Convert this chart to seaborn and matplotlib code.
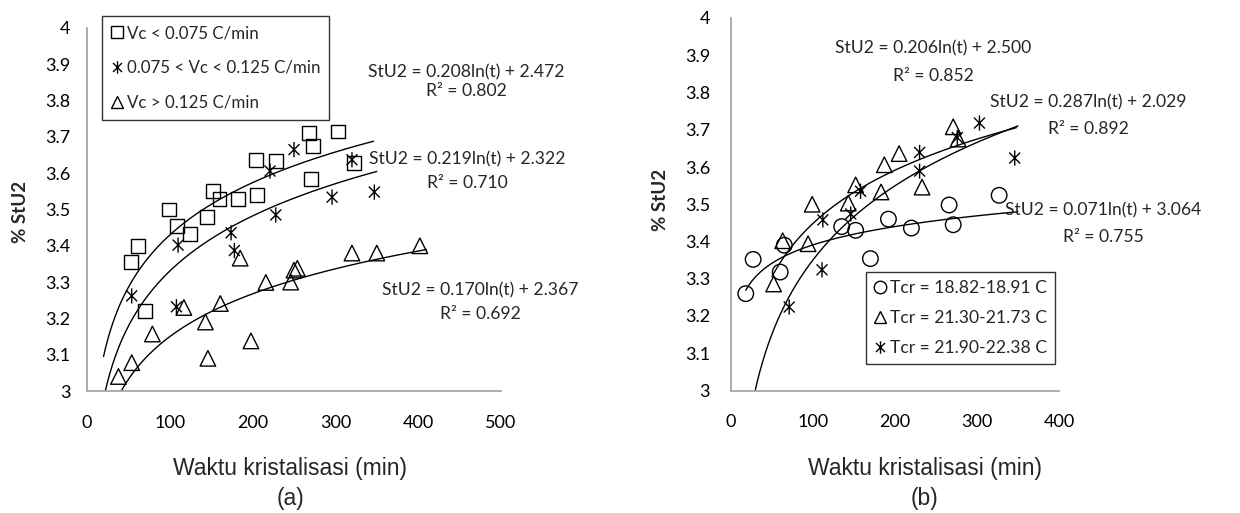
import numpy as np
import matplotlib
matplotlib.use("Agg")
import matplotlib.pyplot as plt
from matplotlib.path import Path
from matplotlib.lines import Line2D
import seaborn as sns

# ---------------- data: panel (a) ----------------
sq_t = [53, 62, 70, 99, 109, 124, 145, 152, 160, 182, 205, 204, 228, 268, 273, 270, 303, 322]
sq_y = [3.355, 3.40, 3.22, 3.50, 3.455, 3.433, 3.48, 3.55, 3.53, 3.53, 3.54, 3.636, 3.633, 3.711, 3.674, 3.583, 3.715, 3.628]
st_t = [54, 108, 110, 174, 178, 221, 228, 250, 296, 320, 347]
st_y = [3.262, 3.232, 3.402, 3.436, 3.387, 3.606, 3.485, 3.665, 3.534, 3.637, 3.548]
tr_t = [38, 54, 79, 117, 143, 146, 161, 185, 198, 216, 246, 250, 254, 320, 350, 402]
tr_y = [3.04, 3.078, 3.157, 3.23, 3.19, 3.09, 3.241, 3.366, 3.138, 3.299, 3.30, 3.333, 3.338, 3.38, 3.38, 3.40]
labels_a = ["Vc < 0.075 C/min", "0.075 < Vc < 0.125 C/min", "Vc > 0.125 C/min"]
coef_a = [(0.208, 2.472), (0.219, 2.322), (0.170, 2.367)]
range_a = [(20, 346), (22, 350), (41, 410)]
eq_a = ["StU2 = 0.208ln(t) + 2.472", "StU2 = 0.219ln(t) + 2.322", "StU2 = 0.170ln(t) + 2.367"]
r2_a = ["R² = 0.802", "R² = 0.710", "R² = 0.692"]

# ---------------- data: panel (b) ----------------
ci_t = [18, 27, 60, 65, 135, 152, 170, 192, 220, 266, 271, 327]
ci_y = [3.26, 3.352, 3.318, 3.39, 3.44, 3.43, 3.354, 3.46, 3.436, 3.498, 3.445, 3.524]
tri_t = [52, 63, 94, 99, 143, 152, 183, 187, 205, 233, 271, 277]
tri_y = [3.286, 3.402, 3.394, 3.50, 3.503, 3.552, 3.533, 3.606, 3.636, 3.546, 3.708, 3.675]
str_t = [71, 111, 112, 146, 158, 230, 230, 276, 303, 346]
str_y = [3.224, 3.324, 3.458, 3.474, 3.535, 3.639, 3.589, 3.679, 3.718, 3.624]
labels_b = ["Tcr = 18.82-18.91 C", "Tcr = 21.30-21.73 C", "Tcr = 21.90-22.38 C"]
coef_b = [(0.071, 3.064), (0.206, 2.500), (0.287, 2.029)]
range_b = [(18, 350), (50, 348), (29, 350)]
eq_b = ["StU2 = 0.071ln(t) + 3.064", "StU2 = 0.206ln(t) + 2.500", "StU2 = 0.287ln(t) + 2.029"]
r2_b = ["R² = 0.755", "R² = 0.852", "R² = 0.892"]

yticks = [3, 3.1, 3.2, 3.3, 3.4, 3.5, 3.6, 3.7, 3.8, 3.9, 4]
ytick_labels = ["3", "3.1", "3.2", "3.3", "3.4", "3.5", "3.6", "3.7", "3.8", "3.9", "4"]
xticks_a = [0, 100, 200, 300, 400, 500]
xticks_b = [0, 100, 200, 300, 400]

# ---------------- style ----------------
sns.set_theme(style="white")
plt.rcParams['font.family'] = ['Lato', 'DejaVu Sans']

W, H = 1240, 513
fig = plt.figure(figsize=(W / 100, H / 100), dpi=100)

def fx(px):
    return px / W

def fy(py):
    return 1 - py / H

star = Path([(0, -1), (0, 1), (-0.72, -0.72), (0.72, 0.72), (-0.72, 0.72), (0.72, -0.72)],
            [Path.MOVETO, Path.LINETO, Path.MOVETO, Path.LINETO, Path.MOVETO, Path.LINETO])

ax1 = fig.add_axes([fx(87), fy(391), fx(501 - 87), (391 - 28) / H])
ax2 = fig.add_axes([fx(731), fy(390.5), fx(1059 - 731), (390.5 - 18) / H])

TICK_FS = 13
EQ_FS = 12.6

def style_axes(ax, xticks, xmax, ypad):
    ax.set_xlim(0, xmax)
    ax.set_ylim(3, 4)
    ax.set_xticks(xticks)
    ax.set_xticklabels([str(v) for v in xticks])
    ax.set_yticks(yticks)
    ax.set_yticklabels(ytick_labels)
    for s in ["top", "right"]:
        ax.spines[s].set_visible(False)
    for s in ["left", "bottom"]:
        ax.spines[s].set_color("#a6a6a6")
        ax.spines[s].set_linewidth(1.3)
    ax.tick_params(axis="y", length=0, pad=ypad, labelsize=TICK_FS, colors="black")
    ax.tick_params(axis="x", length=0, pad=17, labelsize=TICK_FS, colors="black")
    ax.set_xlabel("")
    ax.set_ylabel("")
    ax.set_facecolor("none")

def scatter(ax, t, y, marker, size):
    sns.scatterplot(x=t, y=y, marker=marker, s=size, facecolors="none",
                    edgecolor="black", linewidth=1.0, ax=ax, zorder=3)

def trend(ax, coef, rng):
    a, b = coef
    tt = np.linspace(rng[0], rng[1], 300)
    sns.lineplot(x=tt, y=a * np.log(tt) + b, color="black", linewidth=1.0, ax=ax, zorder=2)

# panel (a)
scatter(ax1, sq_t, sq_y, "s", 100)
scatter(ax1, st_t, st_y, star, 120)
scatter(ax1, tr_t, tr_y, "^", 125)
for c, r in zip(coef_a, range_a):
    trend(ax1, c, r)
style_axes(ax1, xticks_a, 500, 12)

# panel (b)
scatter(ax2, ci_t, ci_y, "o", 125)
scatter(ax2, tri_t, tri_y, "^", 125)
scatter(ax2, str_t, str_y, star, 120)
for c, r in zip(coef_b, range_b):
    trend(ax2, c, r)
style_axes(ax2, xticks_b, 400, 15)

# legends
def handle(marker, lbl):
    return Line2D([], [], linestyle="none", marker=marker, markersize=9,
                  markerfacecolor="none", markeredgecolor="black", markeredgewidth=1.0, label=lbl)

hA = [handle("s", labels_a[0]), handle(star, labels_a[1]), handle("^", labels_a[2])]
legA = fig.legend(handles=hA, loc="upper left", bbox_to_anchor=(fx(102), fy(16)),
                  bbox_transform=fig.transFigure, frameon=True, fancybox=False,
                  edgecolor="black", fontsize=12.2, handlelength=0.7, handletextpad=0.2,
                  labelspacing=1.1, borderpad=0.55, borderaxespad=0)
legA.get_frame().set_linewidth(1.0)
hB = [handle("o", labels_b[0]), handle("^", labels_b[1]), handle(star, labels_b[2])]
legB = fig.legend(handles=hB, loc="upper left", bbox_to_anchor=(fx(866), fy(272)),
                  bbox_transform=fig.transFigure, frameon=True, fancybox=False,
                  edgecolor="black", fontsize=12.6, handlelength=0.7, handletextpad=0.25,
                  labelspacing=0.8, borderpad=0.45, borderaxespad=0)
legB.get_frame().set_linewidth(1.0)

# equations (pixel centres)
eqpos_a = [(466, 72, 91), (467, 159, 183), (480, 290, 314)]
for (cx, y1, y2), e, r in zip(eqpos_a, eq_a, r2_a):
    fig.text(fx(cx), fy(y1), e, ha="center", va="center", fontsize=EQ_FS)
    fig.text(fx(cx), fy(y2), r, ha="center", va="center", fontsize=EQ_FS)
eqpos_b = [(1103, 210, 237), (933, 48, 76), (1088, 102, 129)]
for (cx, y1, y2), e, r in zip(eqpos_b, eq_b, r2_b):
    fig.text(fx(cx), fy(y1), e, ha="center", va="center", fontsize=EQ_FS)
    fig.text(fx(cx), fy(y2), r, ha="center", va="center", fontsize=EQ_FS)

# axis titles
for cx, cyl, tag, ylx, yly in [(290, 468, "(a)", 20, 212), (925, 468, "(b)", 660, 200)]:
    fig.text(fx(cx), fy(cyl), "Waktu kristalisasi (min)", ha="center", va="center",
             fontsize=16.5, family="Liberation Sans")
    fig.text(fx(cx), fy(cyl + 31), tag, ha="center", va="center",
             fontsize=16.5, family="Liberation Sans")
    fig.text(fx(ylx), fy(yly), "% StU2", ha="center", va="center", rotation=90,
             fontsize=13.5, fontweight="bold")

fig.savefig("out.png", dpi=100)
